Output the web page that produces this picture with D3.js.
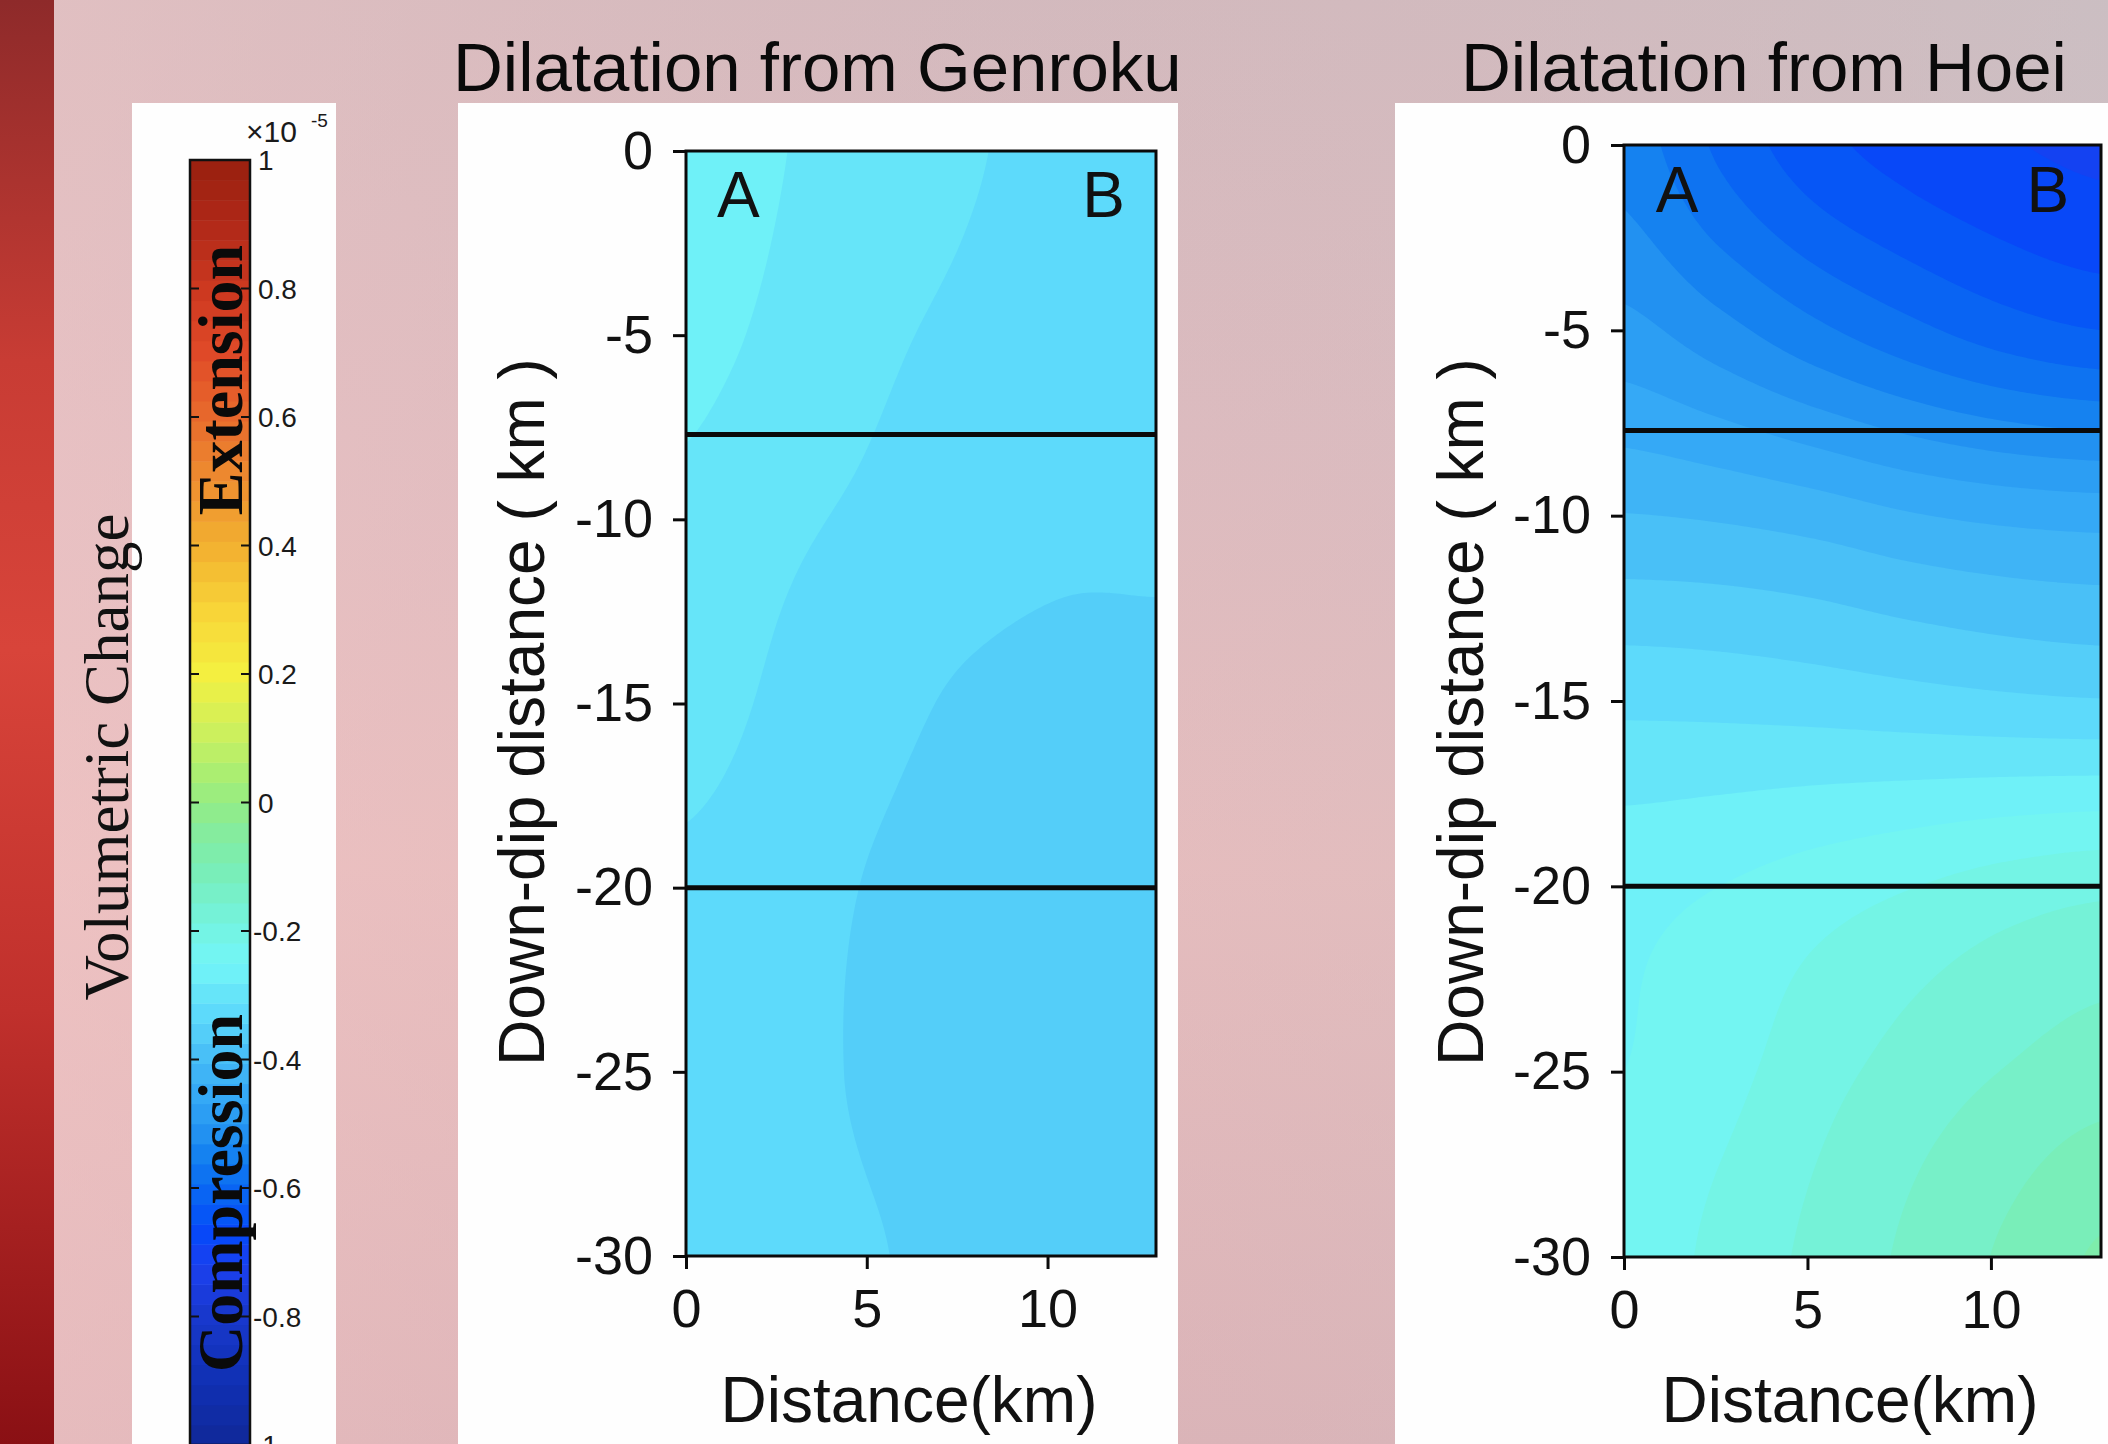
<!DOCTYPE html>
<html lang="en">
<head>
<meta charset="UTF-8">
<title>Dilatation from Genroku and Hoei</title>
<script src="https://d3js.org/d3.v7.min.js"></script>
<style>
  body { margin: 0; background: #e2c0c2; overflow: hidden; }
  svg { display: block; }
  .sans { font-family: "Liberation Sans", Arial, sans-serif; }
  .serif { font-family: "Liberation Serif", "Times New Roman", serif; }
</style>
</head>
<body>
<div id="chart"></div>
<script>
// grid: distance along section (km) and down-dip depth (km)
const distanceKm = [0, 2.6, 5.2, 7.8, 10.4, 13];
const depthKm = [0, -5, -10, -15, -20, -25, -30];

// volumetric change (x10^-5), one row per depth
const genroku = [
  [-0.265, -0.280, -0.296, -0.310, -0.320, -0.328],
  [-0.272, -0.288, -0.307, -0.318, -0.326, -0.332],
  [-0.288, -0.306, -0.318, -0.328, -0.336, -0.338],
  [-0.300, -0.318, -0.334, -0.348, -0.354, -0.352],
  [-0.318, -0.330, -0.346, -0.356, -0.360, -0.358],
  [-0.322, -0.334, -0.348, -0.358, -0.362, -0.360],
  [-0.322, -0.332, -0.342, -0.352, -0.356, -0.356]
];
const hoei = [
  [-0.545, -0.600, -0.645, -0.670, -0.685, -0.695],
  [-0.490, -0.520, -0.555, -0.585, -0.610, -0.625],
  [-0.405, -0.410, -0.420, -0.435, -0.445, -0.450],
  [-0.320, -0.322, -0.326, -0.332, -0.338, -0.342],
  [-0.260, -0.250, -0.235, -0.220, -0.205, -0.195],
  [-0.250, -0.230, -0.200, -0.175, -0.155, -0.140],
  [-0.240, -0.210, -0.180, -0.150, -0.120, -0.090]
];

const faultDepths = [-7.7, -20];
const xTicks = [0, 5, 10];
const yTicks = [0, -5, -10, -15, -20, -25, -30];
const cbarTicks = [1, 0.8, 0.6, 0.4, 0.2, 0, -0.2, -0.4, -0.6, -0.8, -1];

// colour map as it appears on the colour bar
const cmapValues = [-1, -0.9, -0.8, -0.72, -0.68, -0.64, -0.6, -0.55, -0.5, -0.45, -0.4, -0.37, -0.34, -0.31, -0.28, -0.25,
  -0.2, -0.15, -0.1, -0.05, 0, 0.05, 0.1, 0.2, 0.3, 0.4, 0.5, 0.6, 0.7, 0.8, 0.9, 1];
const cmapColors = ["#102898", "#1030b4", "#1838cc", "#1c40ee", "#0844f8", "#0656f6", "#0a68f2", "#1480f0", "#2898f2", "#36aaf6", "#46bcf6",
  "#50caf8", "#5ad6fb", "#62e0fa", "#6cecf8", "#72f6f8",
  "#74f4e4", "#76f0cc", "#7aeeb4", "#84eca0", "#94ec84", "#acee70", "#c8f060", "#f4f040", "#f8d438", "#f2b030",
  "#ee8e30", "#e86a2c", "#e04a28", "#cc3820", "#b02818", "#98200e"];

const W = 2108, H = 1444;
const step = 1 / 32;
const levels = d3.range(-32, 32).map(k => k * step);
const cmap = d3.scaleLinear().domain(cmapValues).range(cmapColors).interpolate(d3.interpolateRgb);

const svg = d3.select("#chart").append("svg").attr("width", W).attr("height", H);
const defs = svg.append("defs");

// slide background
const bgV = defs.append("linearGradient").attr("id", "bgV").attr("x1", 0).attr("y1", 0).attr("x2", 0).attr("y2", 1);
[[0, "#cfbcc0"], [0.3, "#dcbec2"], [0.6, "#e8c0c0"], [1, "#dab4b8"]]
  .forEach(s => bgV.append("stop").attr("offset", s[0]).attr("stop-color", s[1]));
const bgH = defs.append("linearGradient").attr("id", "bgH").attr("x1", 0).attr("y1", 0).attr("x2", 1).attr("y2", 0);
[[0, "#f4c4c4", 0.5], [0.5, "#deb2b6", 0.25], [1, "#c8c0c4", 0.55]]
  .forEach(s => bgH.append("stop").attr("offset", s[0]).attr("stop-color", s[1]).attr("stop-opacity", s[2]));
const strip = defs.append("linearGradient").attr("id", "strip").attr("x1", 0).attr("y1", 0).attr("x2", 0).attr("y2", 1);
[[0, "#8e2a2a"], [0.25, "#c83c34"], [0.45, "#d8443a"], [0.7, "#c0302c"], [1, "#8a1014"]]
  .forEach(s => strip.append("stop").attr("offset", s[0]).attr("stop-color", s[1]));

svg.append("rect").attr("width", W).attr("height", H).attr("fill", "url(#bgV)");
svg.append("rect").attr("width", W).attr("height", H).attr("fill", "url(#bgH)");
svg.append("rect").attr("width", 54).attr("height", H).attr("fill", "url(#strip)");

// ---- colour bar ----
svg.append("rect").attr("x", 132).attr("y", 103).attr("width", 204).attr("height", H - 103).attr("fill", "#fefefe");

const cbY = d3.scaleLinear().domain([-1, 1]).range([1445, 160]);
const cbX0 = 190, cbX1 = 250;
const cb = svg.append("g");
cb.selectAll("rect.band").data(levels).join("rect")
  .attr("class", "band")
  .attr("x", cbX0).attr("width", cbX1 - cbX0)
  .attr("y", d => cbY(d + step)).attr("height", d => cbY(d) - cbY(d + step) + 0.5)
  .attr("fill", d => cmap(d + step / 2));
cb.append("rect").attr("x", cbX0).attr("y", cbY(1)).attr("width", cbX1 - cbX0).attr("height", cbY(-1) - cbY(1))
  .attr("fill", "none").attr("stroke", "#111").attr("stroke-width", 2.5);
cb.selectAll("line.tl").data(cbarTicks).join("line").attr("class", "tl")
  .attr("x1", cbX0).attr("x2", cbX0 + 9).attr("y1", d => cbY(d)).attr("y2", d => cbY(d))
  .attr("stroke", "#111").attr("stroke-width", 2);
cb.selectAll("line.tr").data(cbarTicks).join("line").attr("class", "tr")
  .attr("x1", cbX1 - 9).attr("x2", cbX1).attr("y1", d => cbY(d)).attr("y2", d => cbY(d))
  .attr("stroke", "#111").attr("stroke-width", 2);
cb.selectAll("text.tk").data(cbarTicks).join("text").attr("class", "tk sans")
  .attr("x", d => d < 0 ? 253 : 258).attr("y", d => cbY(d)).attr("dy", "0.36em")
  .attr("font-size", 28).attr("fill", "#1a1a1a")
  .text(d => d === 0 ? "0" : (Math.abs(d) === 1 ? String(d) : d.toFixed(1)));
cb.append("text").attr("class", "sans").attr("x", 246).attr("y", 142).attr("font-size", 30).attr("fill", "#1a1a1a").text("×10");
cb.append("text").attr("class", "sans").attr("x", 311).attr("y", 127).attr("font-size", 19).attr("fill", "#1a1a1a").text("-5");

cb.append("text").attr("class", "serif")
  .attr("transform", "translate(242,380) rotate(-90)")
  .attr("text-anchor", "middle").attr("font-size", 64).attr("font-weight", "bold").attr("fill", "#0a0a0a")
  .text("Extension");
cb.append("text").attr("class", "serif")
  .attr("transform", "translate(242,1193) rotate(-90)")
  .attr("text-anchor", "middle").attr("font-size", 64).attr("font-weight", "bold").attr("fill", "#0a0a0a")
  .text("Compression");

svg.append("text").attr("class", "serif")
  .attr("transform", "translate(128,757) rotate(-90)")
  .attr("text-anchor", "middle").attr("font-size", 63).attr("fill", "#111")
  .text("Volumetric Change");

// ---- smooth resampling of the read grid, for contour bands ----
const NX = 131, NY = 301;
function cr(p0, p1, p2, p3, t) {
  return 0.5 * (2 * p1 + (-p0 + p2) * t + (2 * p0 - 5 * p1 + 4 * p2 - p3) * t * t + (-p0 + 3 * p1 - 3 * p2 + p3) * t * t * t);
}
function resample(field) {
  const rows = field.length, cols = field[0].length;
  const at = (r, c) => field[Math.max(0, Math.min(rows - 1, r))][Math.max(0, Math.min(cols - 1, c))];
  const out = new Float64Array(NX * NY);
  for (let j = 0; j < NY; j++) {
    const fy = (rows - 1) * j / (NY - 1);
    const iy = Math.min(Math.floor(fy), rows - 2), ty = fy - iy;
    for (let i = 0; i < NX; i++) {
      const fx = (cols - 1) * i / (NX - 1);
      const ix = Math.min(Math.floor(fx), cols - 2), tx = fx - ix;
      const col = [-1, 0, 1, 2].map(dr =>
        cr(at(iy + dr, ix - 1), at(iy + dr, ix), at(iy + dr, ix + 1), at(iy + dr, ix + 2), tx));
      out[i + j * NX] = cr(col[0], col[1], col[2], col[3], ty);
    }
  }
  return out;
}

const panels = [
  { id: "g", title: "Dilatation from Genroku", field: genroku, bg: [458, 103, 720, H - 103],
    plot: [686, 1156, 151, 1256], titleX: 453, yLabelX: 544, xLabelX: 909 },
  { id: "h", title: "Dilatation from Hoei", field: hoei, bg: [1395, 103, 713, H - 103],
    plot: [1624, 2101, 145, 1257], titleX: 1461, yLabelX: 1483, xLabelX: 1850 }
];

panels.forEach(p => {
  const [x0, x1, y0, y1] = p.plot;
  svg.append("rect").attr("x", p.bg[0]).attr("y", p.bg[1]).attr("width", p.bg[2]).attr("height", p.bg[3]).attr("fill", "#fefefe");
  svg.append("text").attr("class", "sans").attr("x", p.titleX).attr("y", 91)
    .attr("font-size", 69).attr("fill", "#0a0a0a").text(p.title);

  const xs = d3.scaleLinear().domain([d3.min(distanceKm), d3.max(distanceKm)]).range([x0, x1]);
  const ys = d3.scaleLinear().domain([d3.max(depthKm), d3.min(depthKm)]).range([y0, y1]);

  defs.append("clipPath").attr("id", "clip-" + p.id)
    .append("rect").attr("x", x0).attr("y", y0).attr("width", x1 - x0).attr("height", y1 - y0);

  const values = resample(p.field);
  const contours = d3.contours().size([NX, NY]).thresholds(levels)(values);
  const proj = d3.geoTransform({
    point: function (cx, cy) {
      this.stream.point(xs((cx - 0.5) * 13 / (NX - 1)), ys(-(cy - 0.5) * 30 / (NY - 1)));
    }
  });
  const path = d3.geoPath(proj);
  const g = svg.append("g").attr("clip-path", `url(#clip-${p.id})`);
  g.selectAll("path").data(contours).join("path")
    .attr("d", path)
    .attr("fill", d => cmap(d.value + step / 2));

  // fault boundaries
  g.selectAll("line.fault").data(faultDepths).join("line").attr("class", "fault")
    .attr("x1", x0).attr("x2", x1).attr("y1", d => ys(d)).attr("y2", d => ys(d))
    .attr("stroke", "#0a0a0a").attr("stroke-width", 5);

  svg.append("rect").attr("x", x0).attr("y", y0).attr("width", x1 - x0).attr("height", y1 - y0)
    .attr("fill", "none").attr("stroke", "#0a0a0a").attr("stroke-width", 3);

  const yAxis = svg.append("g").attr("transform", `translate(${x0},0)`)
    .call(d3.axisLeft(ys).tickValues(yTicks).tickSize(13).tickPadding(20).tickFormat(d => String(d)));
  const xAxis = svg.append("g").attr("transform", `translate(0,${y1})`)
    .call(d3.axisBottom(xs).tickValues(xTicks).tickSize(13).tickPadding(20).tickFormat(d => String(d)));
  [yAxis, xAxis].forEach(a => {
    a.select(".domain").remove();
    a.selectAll(".tick line").attr("stroke", "#0a0a0a").attr("stroke-width", 3);
    a.selectAll(".tick text").attr("font-size", 54).attr("fill", "#111")
      .attr("font-family", "Liberation Sans, Arial, sans-serif");
  });

  g.append("text").attr("class", "sans").attr("x", xs(1.45)).attr("y", ys(-1.8))
    .attr("text-anchor", "middle").attr("font-size", 64).attr("fill", "#111").text("A");
  g.append("text").attr("class", "sans").attr("x", xs(11.55)).attr("y", ys(-1.8))
    .attr("text-anchor", "middle").attr("font-size", 64).attr("fill", "#111").text("B");

  svg.append("text").attr("class", "sans")
    .attr("transform", `translate(${p.yLabelX},712) rotate(-90)`)
    .attr("text-anchor", "middle").attr("font-size", 64).attr("fill", "#111")
    .text("Down-dip distance ( km )");
  svg.append("text").attr("class", "sans").attr("x", p.xLabelX).attr("y", 1422)
    .attr("text-anchor", "middle").attr("font-size", 64).attr("fill", "#111").text("Distance(km)");
});
</script>
</body>
</html>
